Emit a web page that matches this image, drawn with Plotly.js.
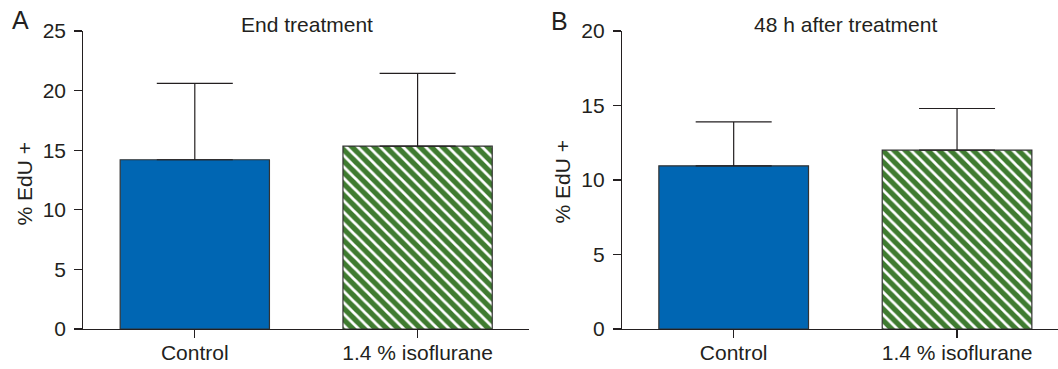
<!DOCTYPE html>
<html>
<head>
<meta charset="utf-8">
<script src="https://cdn.plot.ly/plotly-3.0.1.min.js"></script>
<style>
html,body{margin:0;padding:0;background:#fff;}
#chart{width:1058px;height:369px;}
</style>
</head>
<body>
<div id="chart"></div>
<script>
// Data
const categories = ["Control", "1.4 % isoflurane"];
const endTreatmentMean = [14.2, 15.35];
const endTreatmentSD = [6.4, 6.1];
const after48hMean = [10.95, 12.0];
const after48hSD = [2.95, 2.8];
const panelTitles = ["End treatment", "48 h after treatment"];
const panelLetters = ["A", "B"];
const yTitle = "% EdU +";
const yTicksA = [0, 5, 10, 15, 20, 25];
const yTicksB = [0, 5, 10, 15, 20];

const FONT = "Liberation Sans, Arial, Helvetica, sans-serif";
const TXT = "#231f20";
const blue = "#0066b3";
const greenDark = "#3f7b30";
const greenLight = "#97ab86";

function barTrace(means, sds, xa, ya) {
  return {
    type: "bar",
    x: categories,
    y: means,
    xaxis: xa,
    yaxis: ya,
    width: 0.67,
    marker: {
      color: [blue, greenDark],
      line: {color: "#333333", width: 1.2},
      pattern: {
        shape: ["", "\\"],
        fgcolor: greenLight,
        fgopacity: 1,
        size: 8,
        solidity: 0.35,
        fillmode: "overlay"
      }
    },
    error_y: {
      type: "data",
      array: sds,
      arrayminus: [0, 0],
      symmetric: false,
      visible: true,
      color: "#231f20",
      thickness: 1.2,
      width: 38
    },
    hoverinfo: "skip",
    showlegend: false
  };
}

const axisCommon = {
  showline: true,
  linecolor: "#231f20",
  linewidth: 1.2,
  ticks: "outside",
  ticklen: 8,
  tickwidth: 1.2,
  tickcolor: "#231f20",
  showgrid: false,
  zeroline: false,
  tickfont: {family: FONT, size: 21, color: TXT},
  fixedrange: true
};

const layout = {
  width: 1058,
  height: 369,
  margin: {l: 0, r: 0, t: 31, b: 40, pad: 0},
  paper_bgcolor: "#ffffff",
  plot_bgcolor: "#ffffff",
  font: {family: FONT, size: 21, color: TXT},
  xaxis: Object.assign({}, axisCommon, {
    domain: [83.4/1058, 529/1058],
    range: [-0.5, 1.5],
    type: "category",
    anchor: "y",
    ticklabelstandoff: -3
  }),
  yaxis: Object.assign({}, axisCommon, {
    domain: [0, 1],
    range: [0, 25],
    tickvals: yTicksA,
    anchor: "x",
    ticklabelstandoff: 4
  }),
  xaxis2: Object.assign({}, axisCommon, {
    domain: [622/1058, 1],
    range: [-0.5, 1.452],
    type: "category",
    anchor: "y2",
    ticklabelstandoff: -3
  }),
  yaxis2: Object.assign({}, axisCommon, {
    domain: [0, 1],
    range: [0, 20],
    tickvals: yTicksB,
    anchor: "x2",
    ticklabelstandoff: 4
  }),
  annotations: [
    {text: panelTitles[0], xref: "paper", yref: "paper", x: 307/1058, y: (329-24.5)/298,
     xanchor: "center", yanchor: "middle", showarrow: false, font: {family: FONT, size: 21, color: TXT}},
    {text: panelTitles[1], xref: "paper", yref: "paper", x: 845/1058, y: (329-24.5)/298,
     xanchor: "center", yanchor: "middle", showarrow: false, font: {family: FONT, size: 21, color: TXT}},
    {text: panelLetters[0], xref: "paper", yref: "paper", x: 20/1058, y: (329-20.5)/298,
     xanchor: "center", yanchor: "middle", showarrow: false, font: {family: FONT, size: 25, color: TXT}},
    {text: panelLetters[1], xref: "paper", yref: "paper", x: 559/1058, y: (329-21)/298,
     xanchor: "center", yanchor: "middle", showarrow: false, font: {family: FONT, size: 25, color: TXT}},
    {text: yTitle, xref: "paper", yref: "paper", x: 23.5/1058, y: (329-184)/298, textangle: -90,
     xanchor: "center", yanchor: "middle", showarrow: false, font: {family: FONT, size: 21, color: TXT}},
    {text: yTitle, xref: "paper", yref: "paper", x: 561.5/1058, y: (329-182)/298, textangle: -90,
     xanchor: "center", yanchor: "middle", showarrow: false, font: {family: FONT, size: 21, color: TXT}}
  ]
};

const data = [
  barTrace(endTreatmentMean, endTreatmentSD, "x", "y"),
  barTrace(after48hMean, after48hSD, "x2", "y2")
];

Plotly.newPlot("chart", data, layout, {staticPlot: true, displayModeBar: false});
</script>
</body>
</html>
